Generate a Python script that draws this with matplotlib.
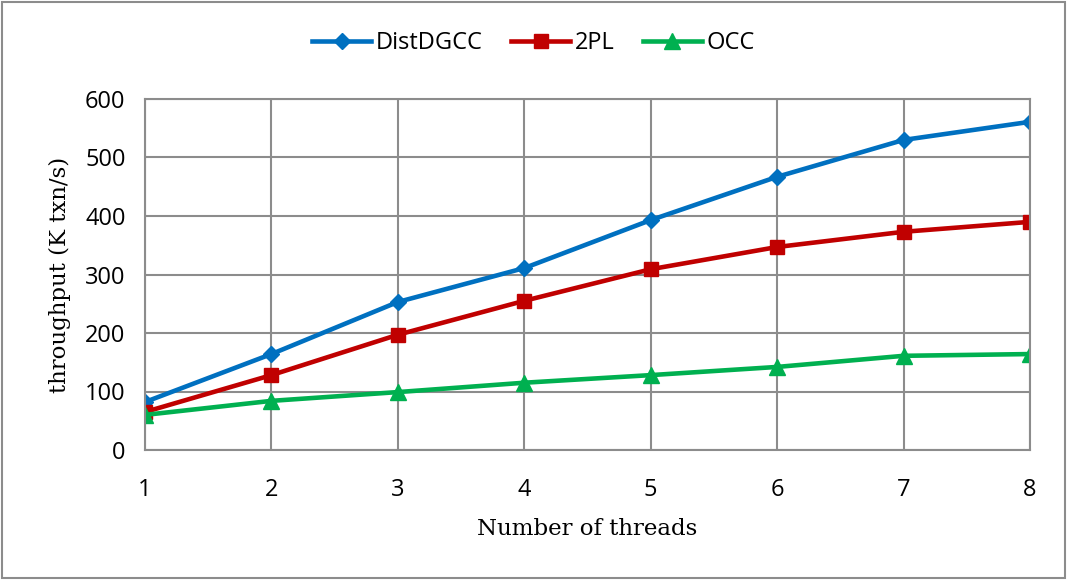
import matplotlib.pyplot as plt

threads = [1, 2, 3, 4, 5, 6, 7, 8]
distdgcc = [82, 164, 253, 311, 393, 467, 530, 561]
twopl = [65, 128, 197, 255, 309, 347, 373, 390]
occ = [60, 84, 99, 115, 128, 142, 161, 164]

fig = plt.figure(figsize=(10.67, 5.8), dpi=100)
ax = fig.add_axes([145 / 1067, 1 - 450 / 580, 885 / 1067, 351 / 580])

tick_font = 'Open Sans'
ax.plot(threads, distdgcc, color='#0070c0', lw=3.3, marker='D', ms=8, label='DistDGCC')
ax.plot(threads, twopl, color='#c00000', lw=3.3, marker='s', ms=10, label='2PL')
ax.plot(threads, occ, color='#00b050', lw=3.3, marker='^', ms=11, label='OCC')

ax.set_xlim(1, 8)
ax.set_ylim(0, 600)
ax.set_xticks(threads)
ax.set_yticks(range(0, 601, 100))
ax.grid(True, color='#8c8c8c', lw=1.5)
ax.set_axisbelow(True)
for s in ax.spines.values():
    s.set_color('#8c8c8c')
    s.set_linewidth(1.5)
ax.tick_params(length=0, labelsize=17)
ax.tick_params(axis='x', pad=20)
ax.tick_params(axis='y', pad=14)
for lab in ax.get_xticklabels() + ax.get_yticklabels():
    lab.set_family(tick_font)

ax.set_xlabel('Number of threads', family='DejaVu Serif', fontsize=16.5, labelpad=12)
ax.set_ylabel('throughput (K txn/s)', family='DejaVu Serif', fontsize=16.5, labelpad=10)

fig.legend(loc='center', bbox_to_anchor=(0.5, 1 - 43 / 580), ncol=3, frameon=False,
           prop={'family': tick_font, 'size': 17}, handlelength=2.5, columnspacing=1.2,
           handletextpad=0.2)

fig.patches.append(plt.Rectangle((0.002, 0.003), 0.996, 0.994, transform=fig.transFigure,
                                 fill=False, edgecolor='#8c8c8c', lw=1.5))

fig.savefig('out.png', dpi=100)
